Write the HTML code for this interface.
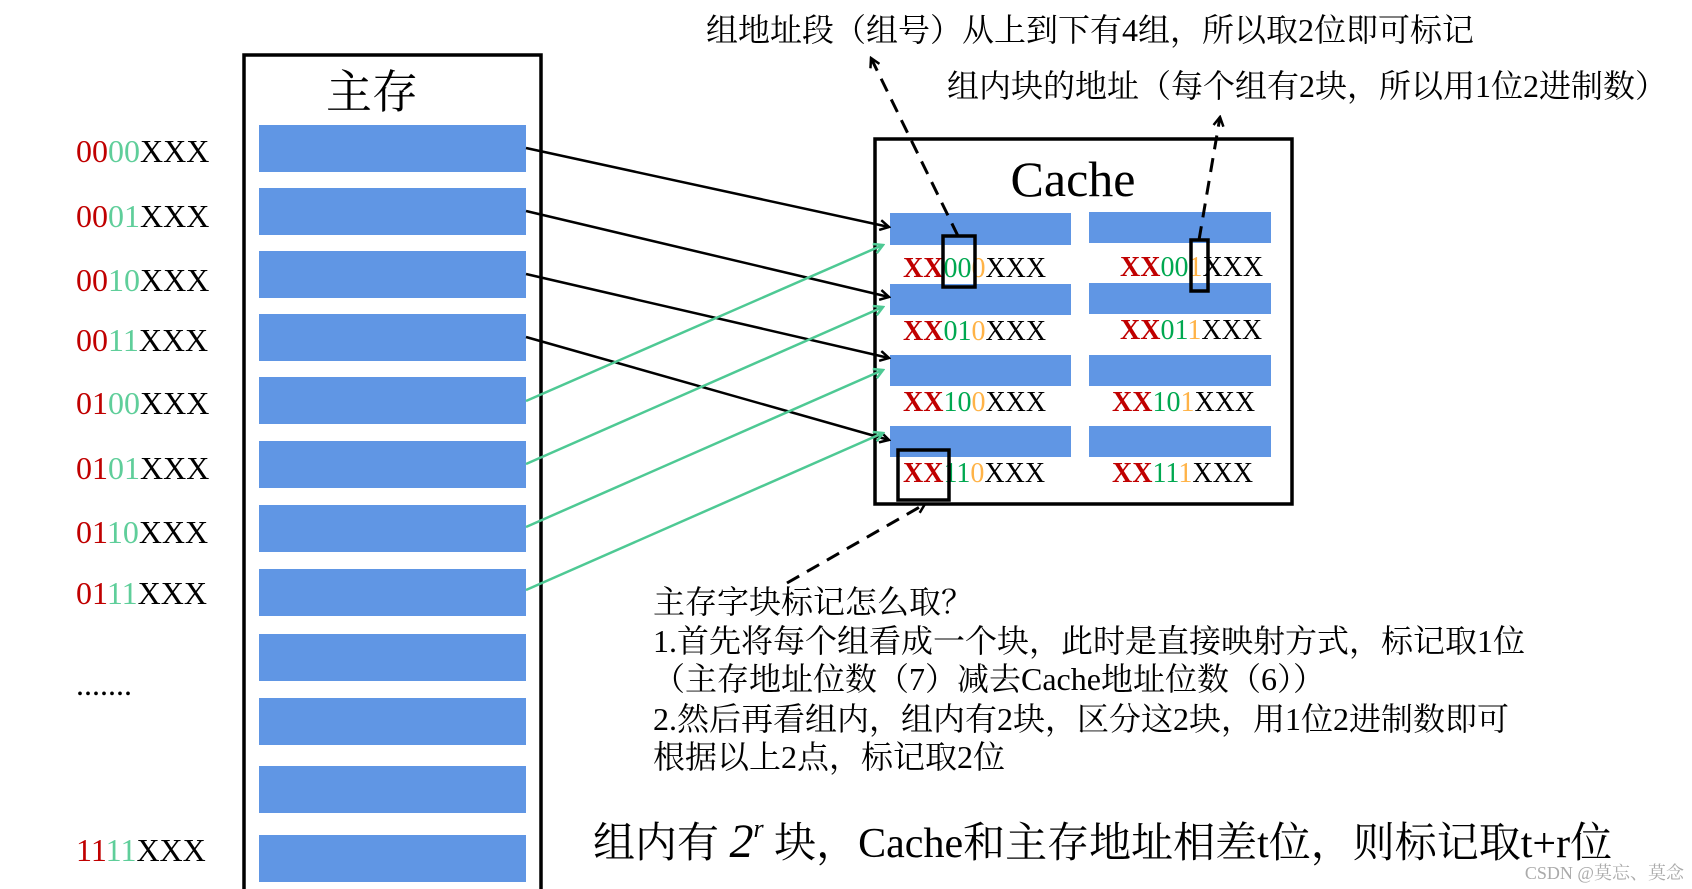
<!DOCTYPE html>
<html><head><meta charset="utf-8"><style>
html,body{margin:0;padding:0;background:#fff;}
svg{display:block;}
text{font-family:"Liberation Serif","Noto Serif CJK SC",serif;}
.cj{font-family:"Liberation Serif","Noto Serif CJK SC",serif;}
</style></head><body>
<svg width="1692" height="889" viewBox="0 0 1692 889" xmlns="http://www.w3.org/2000/svg">
<defs>
<marker id="ab" markerWidth="12" markerHeight="12" refX="10" refY="6" orient="auto" markerUnits="userSpaceOnUse"><path d="M1,1 L10,6 L1,11" fill="none" stroke="#000" stroke-width="2.5"/></marker>
<marker id="ag" markerWidth="12" markerHeight="12" refX="10" refY="6" orient="auto" markerUnits="userSpaceOnUse"><path d="M1,1 L10,6 L1,11" fill="none" stroke="#4ec994" stroke-width="2.5"/></marker>
</defs>
<!-- main memory box -->
<rect x="244" y="55" width="297" height="860" fill="none" stroke="#000" stroke-width="3.5"/>
<text x="372" y="108" font-size="46" text-anchor="middle" class="cj">主存</text>
<g fill="#6096e4">
<rect x="259" y="125" width="267" height="47"/>
<rect x="259" y="188" width="267" height="47"/>
<rect x="259" y="251" width="267" height="47"/>
<rect x="259" y="314" width="267" height="47"/>
<rect x="259" y="377" width="267" height="47"/>
<rect x="259" y="441" width="267" height="47"/>
<rect x="259" y="505" width="267" height="47"/>
<rect x="259" y="569" width="267" height="47"/>
<rect x="259" y="634" width="267" height="47"/>
<rect x="259" y="698" width="267" height="47"/>
<rect x="259" y="766" width="267" height="47"/>
<rect x="259" y="835" width="267" height="47"/>
</g>
<g font-size="32">
<text x="76" y="162"><tspan fill="#c00000">00</tspan><tspan fill="#5fce9a">00</tspan>XXX</text>
<text x="76" y="227"><tspan fill="#c00000">00</tspan><tspan fill="#5fce9a">01</tspan>XXX</text>
<text x="76" y="291"><tspan fill="#c00000">00</tspan><tspan fill="#5fce9a">10</tspan>XXX</text>
<text x="76" y="351"><tspan fill="#c00000">00</tspan><tspan fill="#5fce9a">11</tspan>XXX</text>
<text x="76" y="414"><tspan fill="#c00000">01</tspan><tspan fill="#5fce9a">00</tspan>XXX</text>
<text x="76" y="479"><tspan fill="#c00000">01</tspan><tspan fill="#5fce9a">01</tspan>XXX</text>
<text x="76" y="543"><tspan fill="#c00000">01</tspan><tspan fill="#5fce9a">10</tspan>XXX</text>
<text x="76" y="604"><tspan fill="#c00000">01</tspan><tspan fill="#5fce9a">11</tspan>XXX</text>
<text x="76" y="695">.......</text>
<text x="76" y="861"><tspan fill="#c00000">11</tspan><tspan fill="#5fce9a">11</tspan>XXX</text>
</g>
<!-- cache -->
<rect x="875" y="139" width="417" height="365" fill="none" stroke="#000" stroke-width="3.5"/>
<text x="1073" y="196" font-size="50" text-anchor="middle">Cache</text>
<g fill="#6096e4">
<rect x="890" y="213" width="181" height="32"/>
<rect x="890" y="284" width="181" height="31"/>
<rect x="890" y="355" width="181" height="31"/>
<rect x="890" y="426" width="181" height="31"/>
<rect x="1089" y="212" width="182" height="31"/>
<rect x="1089" y="283" width="182" height="31"/>
<rect x="1089" y="355" width="182" height="31"/>
<rect x="1089" y="426" width="182" height="31"/>
</g>
<g font-size="28">
<text x="903" y="277"><tspan fill="#c00000" font-weight="bold">XX</tspan><tspan fill="#00a850">00</tspan><tspan fill="#ffb347">0</tspan>XXX</text>
<text x="1120" y="276"><tspan fill="#c00000" font-weight="bold">XX</tspan><tspan fill="#00a850">00</tspan><tspan fill="#ffb347">1</tspan>XXX</text>
<text x="903" y="340"><tspan fill="#c00000" font-weight="bold">XX</tspan><tspan fill="#00a850">01</tspan><tspan fill="#ffb347">0</tspan>XXX</text>
<text x="1120" y="339"><tspan fill="#c00000" font-weight="bold">XX</tspan><tspan fill="#00a850">01</tspan><tspan fill="#ffb347">1</tspan>XXX</text>
<text x="903" y="411"><tspan fill="#c00000" font-weight="bold">XX</tspan><tspan fill="#00a850">10</tspan><tspan fill="#ffb347">0</tspan>XXX</text>
<text x="1112" y="411"><tspan fill="#c00000" font-weight="bold">XX</tspan><tspan fill="#00a850">10</tspan><tspan fill="#ffb347">1</tspan>XXX</text>
<text x="903" y="482"><tspan fill="#c00000" font-weight="bold">XX</tspan><tspan fill="#00a850">11</tspan><tspan fill="#ffb347">0</tspan>XXX</text>
<text x="1112" y="482"><tspan fill="#c00000" font-weight="bold">XX</tspan><tspan fill="#00a850">11</tspan><tspan fill="#ffb347">1</tspan>XXX</text>
</g>
<g fill="none" stroke="#000" stroke-width="3.5">
<rect x="943" y="236" width="32" height="51"/>
<rect x="1191" y="240" width="17" height="51"/>
<rect x="898" y="450" width="51" height="50"/>
</g>
<!-- arrows -->
<g stroke="#000" stroke-width="2.5" fill="none" marker-end="url(#ab)">
<line x1="526" y1="148" x2="889" y2="227"/>
<line x1="526" y1="211" x2="889" y2="297"/>
<line x1="526" y1="274" x2="889" y2="358"/>
<line x1="526" y1="337" x2="889" y2="440"/>
</g>
<g stroke="#4ec994" stroke-width="2.5" fill="none" marker-end="url(#ag)">
<line x1="526" y1="401" x2="883" y2="245"/>
<line x1="526" y1="464" x2="883" y2="307"/>
<line x1="526" y1="527" x2="883" y2="370"/>
<line x1="526" y1="590" x2="883" y2="433"/>
</g>
<g stroke="#000" stroke-width="3" fill="none" stroke-dasharray="14,9" marker-end="url(#ab)">
<line x1="958" y1="236" x2="871" y2="58"/>
<line x1="1199" y1="240" x2="1220" y2="117"/>
<line x1="787" y1="583" x2="925" y2="504"/>
</g>
<!-- texts -->
<g font-size="32" class="cj">
<text x="706" y="41">组地址段（组号）从上到下有4组，所以取2位即可标记</text>
<text x="947" y="97">组内块的地址（每个组有2块，所以用1位2进制数）</text>
<text x="653" y="613">主存字块标记怎么取？</text>
<text x="653" y="652">1.首先将每个组看成一个块，此时是直接映射方式，标记取1位</text>
<text x="653" y="690">（主存地址位数（7）减去Cache地址位数（6））</text>
<text x="653" y="730">2.然后再看组内，组内有2块，区分这2块，用1位2进制数即可</text>
<text x="653" y="768">根据以上2点，标记取2位</text>
</g>
<text x="593" y="857" font-size="42" class="cj">组内有 <tspan font-size="48" font-style="italic">2</tspan><tspan font-size="26" font-style="italic" dy="-20">r</tspan><tspan dy="20"> 块，Cache和主存地址相差t位，则标记取t+r位</tspan></text>
<text x="1684" y="879" font-size="18" fill="#aaa" text-anchor="end" font-family="Liberation Sans, Noto Sans CJK SC, sans-serif">CSDN @莫忘、莫念</text>
</svg>
</body></html>
